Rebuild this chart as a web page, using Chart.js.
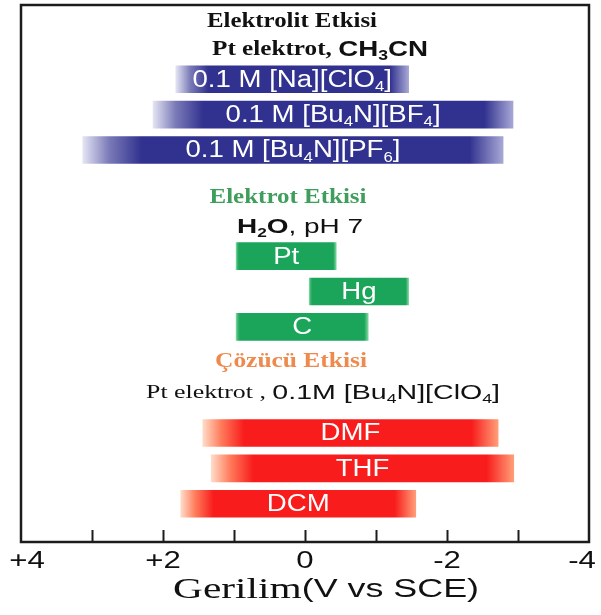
<!DOCTYPE html>
<html>
<head>
<meta charset="utf-8">
<script src="https://cdn.jsdelivr.net/npm/chart.js@4.4.0/dist/chart.umd.min.js"></script>
<style>
  html, body { margin: 0; padding: 0; background: #fff; }
  canvas { display: block; }
</style>
</head>
<body>
<canvas id="chart" width="601" height="615" style="width:601px;height:615px"></canvas>
<script>
// bar labels use "_x" for a subscript character
const electrolyteNames = ['0.1 M [Na][ClO_4]', '0.1 M [Bu_4N][BF_4]', '0.1 M [Bu_4N][PF_6]'];
const electrolyteFrom = [1.82, 2.14, 3.13];
const electrolyteTo = [-1.46, -2.93, -2.79];

const electrodeNames = ['Pt', 'Hg', 'C'];
const electrodeFrom = [0.97, -0.06, 0.97];
const electrodeTo = [-0.44, -1.46, -0.89];

const solventNames = ['DMF', 'THF', 'DCM'];
const solventFrom = [1.44, 1.32, 1.75];
const solventTo = [-2.72, -2.94, -1.56];

const xTickValues = [4, 2, 0, -2, -4];
const xTickLabels = ['+4', '+2', '0', '-2', '-4'];

const SERIF = '"Liberation Serif", "Times New Roman", serif';
const SANS = '"Liberation Sans", Arial, sans-serif';

// split "_x" subscripts into runs
function toRuns(parts) {
  const out = [];
  parts.forEach(p => {
    const size = +p.f.match(/(\d+)px/)[1];
    const subF = p.f.replace(/\d+px/, Math.round(size * 0.62) + 'px');
    p.t.split(/_(.)/).forEach((b, i) => {
      if (b) out.push({ t: b, f: i % 2 ? subF : p.f, dy: i % 2 ? size * 0.3 : 0 });
    });
  });
  return out;
}

// draws mixed-font text centred on cx; stretched to width, or by sx
function drawRich(ctx, parts, cx, cy, color, width, sx) {
  const runs = toRuns(parts);
  ctx.save();
  ctx.fillStyle = color;
  ctx.textBaseline = 'middle';
  ctx.textAlign = 'left';
  let w = 0;
  runs.forEach(r => { ctx.font = r.f; r.w = ctx.measureText(r.t).width; w += r.w; });
  const k = width ? width / w : (sx || 1);
  ctx.translate(cx - w * k / 2, cy);
  ctx.scale(k, 1);
  let x = 0;
  runs.forEach(r => { ctx.font = r.f; ctx.fillText(r.t, x, r.dy); x += r.w; });
  ctx.restore();
}

function makeData(from, to, group) {
  return from.map((v, i) => ({ x: [v, to[i]], y: group * 5 + i }));
}

const groups = [
  { names: electrolyteNames, data: makeData(electrolyteFrom, electrolyteTo, 0), kind: 'blue' },
  { names: electrodeNames, data: makeData(electrodeFrom, electrodeTo, 1), kind: 'green' },
  { names: solventNames, data: makeData(solventFrom, solventTo, 2), kind: 'red' }
];

const palettes = {
  blue: { left: '#e4e4f4', mid: '#7a7ab8', core: '#31318f', right: '#a8a8d6', lf: 0.14, rf: 0.08 },
  green: { left: '#7fd6a0', mid: '#3cb56e', core: '#1aa55a', right: '#7fd6a0', lf: 0.03, rf: 0.03 },
  red: { left: '#ffdcc8', mid: '#ff7a5a', core: '#f81c1c', right: '#ff9e78', lf: 0.14, rf: 0.09 }
};

function barFill(kind) {
  return (c) => {
    const p = palettes[kind];
    const chart = c.chart;
    if (!chart.chartArea || !c.raw) return p.core;
    const xs = chart.scales.x;
    const a = xs.getPixelForValue(c.raw.x[0]);
    const b = xs.getPixelForValue(c.raw.x[1]);
    const g = chart.ctx.createLinearGradient(Math.min(a, b), 0, Math.max(a, b), 0);
    g.addColorStop(0, p.left);
    g.addColorStop(p.lf * 0.45, p.mid);
    g.addColorStop(p.lf, p.core);
    g.addColorStop(1 - p.rf, p.core);
    g.addColorStop(1, p.right);
    return g;
  };
}

const decor = {
  id: 'decor',
  afterDatasetsDraw(chart) {
    const ctx = chart.ctx;
    // labels inside bars
    groups.forEach((grp, di) => {
      chart.getDatasetMeta(di).data.forEach((el, i) => {
        drawRich(ctx, [{ t: grp.names[i], f: '23px ' + SANS }],
          (el.x + el.base) / 2, el.y + 1, '#fff', 0, 1.2);
      });
    });
  },
  afterDraw(chart) {
    const ctx = chart.ctx;
    const area = chart.chartArea;
    const xs = chart.scales.x;

    // frame
    ctx.save();
    ctx.strokeStyle = '#1c1c1c';
    ctx.lineWidth = 2.5;
    ctx.strokeRect(area.left, area.top, area.right - area.left, area.bottom - area.top);

    // inward tick marks every 1 V
    ctx.lineWidth = 2;
    xs.ticks.forEach(t => {
      if (Math.abs(t.value) >= 4) return;
      const px = Math.round(xs.getPixelForValue(t.value)) + 0.5;
      ctx.beginPath();
      ctx.moveTo(px, area.bottom);
      ctx.lineTo(px, area.bottom - 12);
      ctx.stroke();
    });
    ctx.restore();

    // tick labels
    xTickValues.forEach((v, i) => {
      let px = xs.getPixelForValue(v);
      px = Math.min(Math.max(px, 27), 582);
      drawRich(ctx, [{ t: xTickLabels[i], f: '24px ' + SANS }], px, area.bottom + 19, '#111', 0, 1.3);
    });

    // axis title
    drawRich(ctx, [
      { t: 'Gerilim', f: '30px ' + SERIF },
      { t: '(V vs SCE)', f: '26px ' + SANS }
    ], 326, 590, '#111', 306);

    // group headings
    drawRich(ctx, [{ t: 'Elektrolit Etkisi', f: 'bold 20px ' + SERIF }], 292, 22, '#111', 170);
    drawRich(ctx, [
      { t: 'Pt elektrot, ', f: 'bold 20px ' + SERIF },
      { t: 'CH_3CN', f: 'bold 22px ' + SANS }
    ], 320, 50, '#111', 216);

    drawRich(ctx, [{ t: 'Elektrot Etkisi', f: 'bold 20px ' + SERIF }], 288, 198, '#3f9e5c', 157);
    drawRich(ctx, [
      { t: 'H_2O', f: 'bold 21px ' + SANS },
      { t: ', pH 7', f: '21px ' + SANS }
    ], 300, 227, '#111', 126);

    drawRich(ctx, [{ t: 'Çözücü Etkisi', f: 'bold 20px ' + SERIF }], 291, 362, '#ee8a4e', 152);
    drawRich(ctx, [
      { t: 'Pt elektrot , ', f: '19px ' + SERIF },
      { t: '0.1M [Bu_4N][ClO_4]', f: '21px ' + SANS }
    ], 323, 393, '#111', 354);
  }
};

new Chart(document.getElementById('chart'), {
  type: 'bar',
  data: {
    datasets: groups.map(g => ({
      data: g.data,
      backgroundColor: barFill(g.kind),
      borderWidth: 0,
      borderSkipped: false,
      barThickness: 27,
      grouped: false
    }))
  },
  options: {
    indexAxis: 'y',
    responsive: false,
    animation: false,
    layout: { padding: { left: 21, right: 12, top: 5, bottom: 73 } },
    plugins: {
      legend: { display: false },
      tooltip: { enabled: false }
    },
    scales: {
      x: {
        type: 'linear',
        min: -4,
        max: 4,
        reverse: true,
        ticks: { stepSize: 1, display: false },
        grid: { display: false, drawTicks: false },
        border: { display: false }
      },
      y: {
        type: 'linear',
        min: -2.1,
        max: 13.08,
        reverse: true,
        offset: false,
        display: false
      }
    }
  },
  plugins: [decor]
});
</script>
</body>
</html>
